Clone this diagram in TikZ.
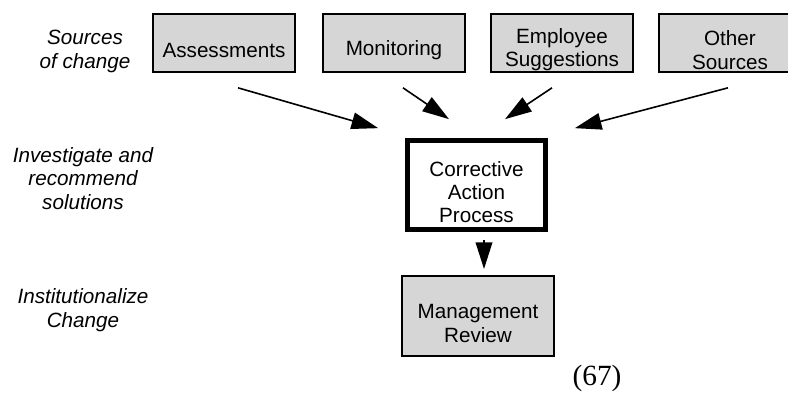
\documentclass[tikz,border=0pt]{standalone}
\usepackage{fontspec}
\setmainfont{Liberation Sans}
\newfontfamily\serifnum{Liberation Serif}
\usetikzlibrary{arrows.meta,calc}
\newcommand\lowtext{\rule{0pt}{1.4em}}

\begin{document}
\begin{tikzpicture}[x=0.75pt,y=-0.75pt,
    box/.style={draw,align=center,inner sep=0pt,
      font=\fontsize{15.5}{17.5}\selectfont},
    source/.style={box,fill=black!16,line width=1.5pt,minimum width=107pt,minimum height=44pt},
    stage/.style={align=center,font=\fontsize{15.5}{17.5}\selectfont\itshape},
    flow/.style={line width=1.2pt,-{Triangle[length=20pt,width=12.5pt]}}]

\clip (0,0) rectangle (788,395);

\node[source] (assess) at (224,43) {\lowtext Assessments};
\node[source] (monitor) at (394,43) {\lowtext Monitoring};
\node[source] (employee) at (562,43) {\lowtext Employee\\Suggestions};
\node[source] (other) at (730,43) {\lowtext Other\\Sources};

\node[box,line width=3.5pt,minimum width=103.5pt,minimum height=66.75pt] (cap) at (476.5,185) {\lowtext Corrective\\Action\\Process};
\node[source,minimum width=114pt,minimum height=60pt] (review) at (478,316) {\lowtext Management\\Review};

\node[stage] (change) at (85,51.5) {Sources\\of change};
\node[stage] (investigate) at (83,178.5) {Investigate and\\recommend\\solutions};
\node[stage] (institute) at (83,310) {Institutionalize\\Change};

\draw[flow] ($(assess.south)+(14,14.5)$) -- ($(cap.north west)+(-27,-10)$);
\draw[flow] ($(monitor.south)+(9,14.5)$) -- ($(cap.north)+(-27.5,-19)$);
\draw[flow] ($(employee.south)+(-10,14.5)$) -- ($(cap.north)+(28.5,-19)$);
\draw[flow] ($(other.south)+(-2,14.5)$) -- ($(cap.north east)+(27,-10)$);
\draw[flow] ($(cap.south)+(7.5,8)$) -- ($(review.north)+(6,-6)$);

\node[font=\serifnum\fontsize{22}{26}\selectfont] (num) at (597,378) {(67)};
\end{tikzpicture}
\end{document}
